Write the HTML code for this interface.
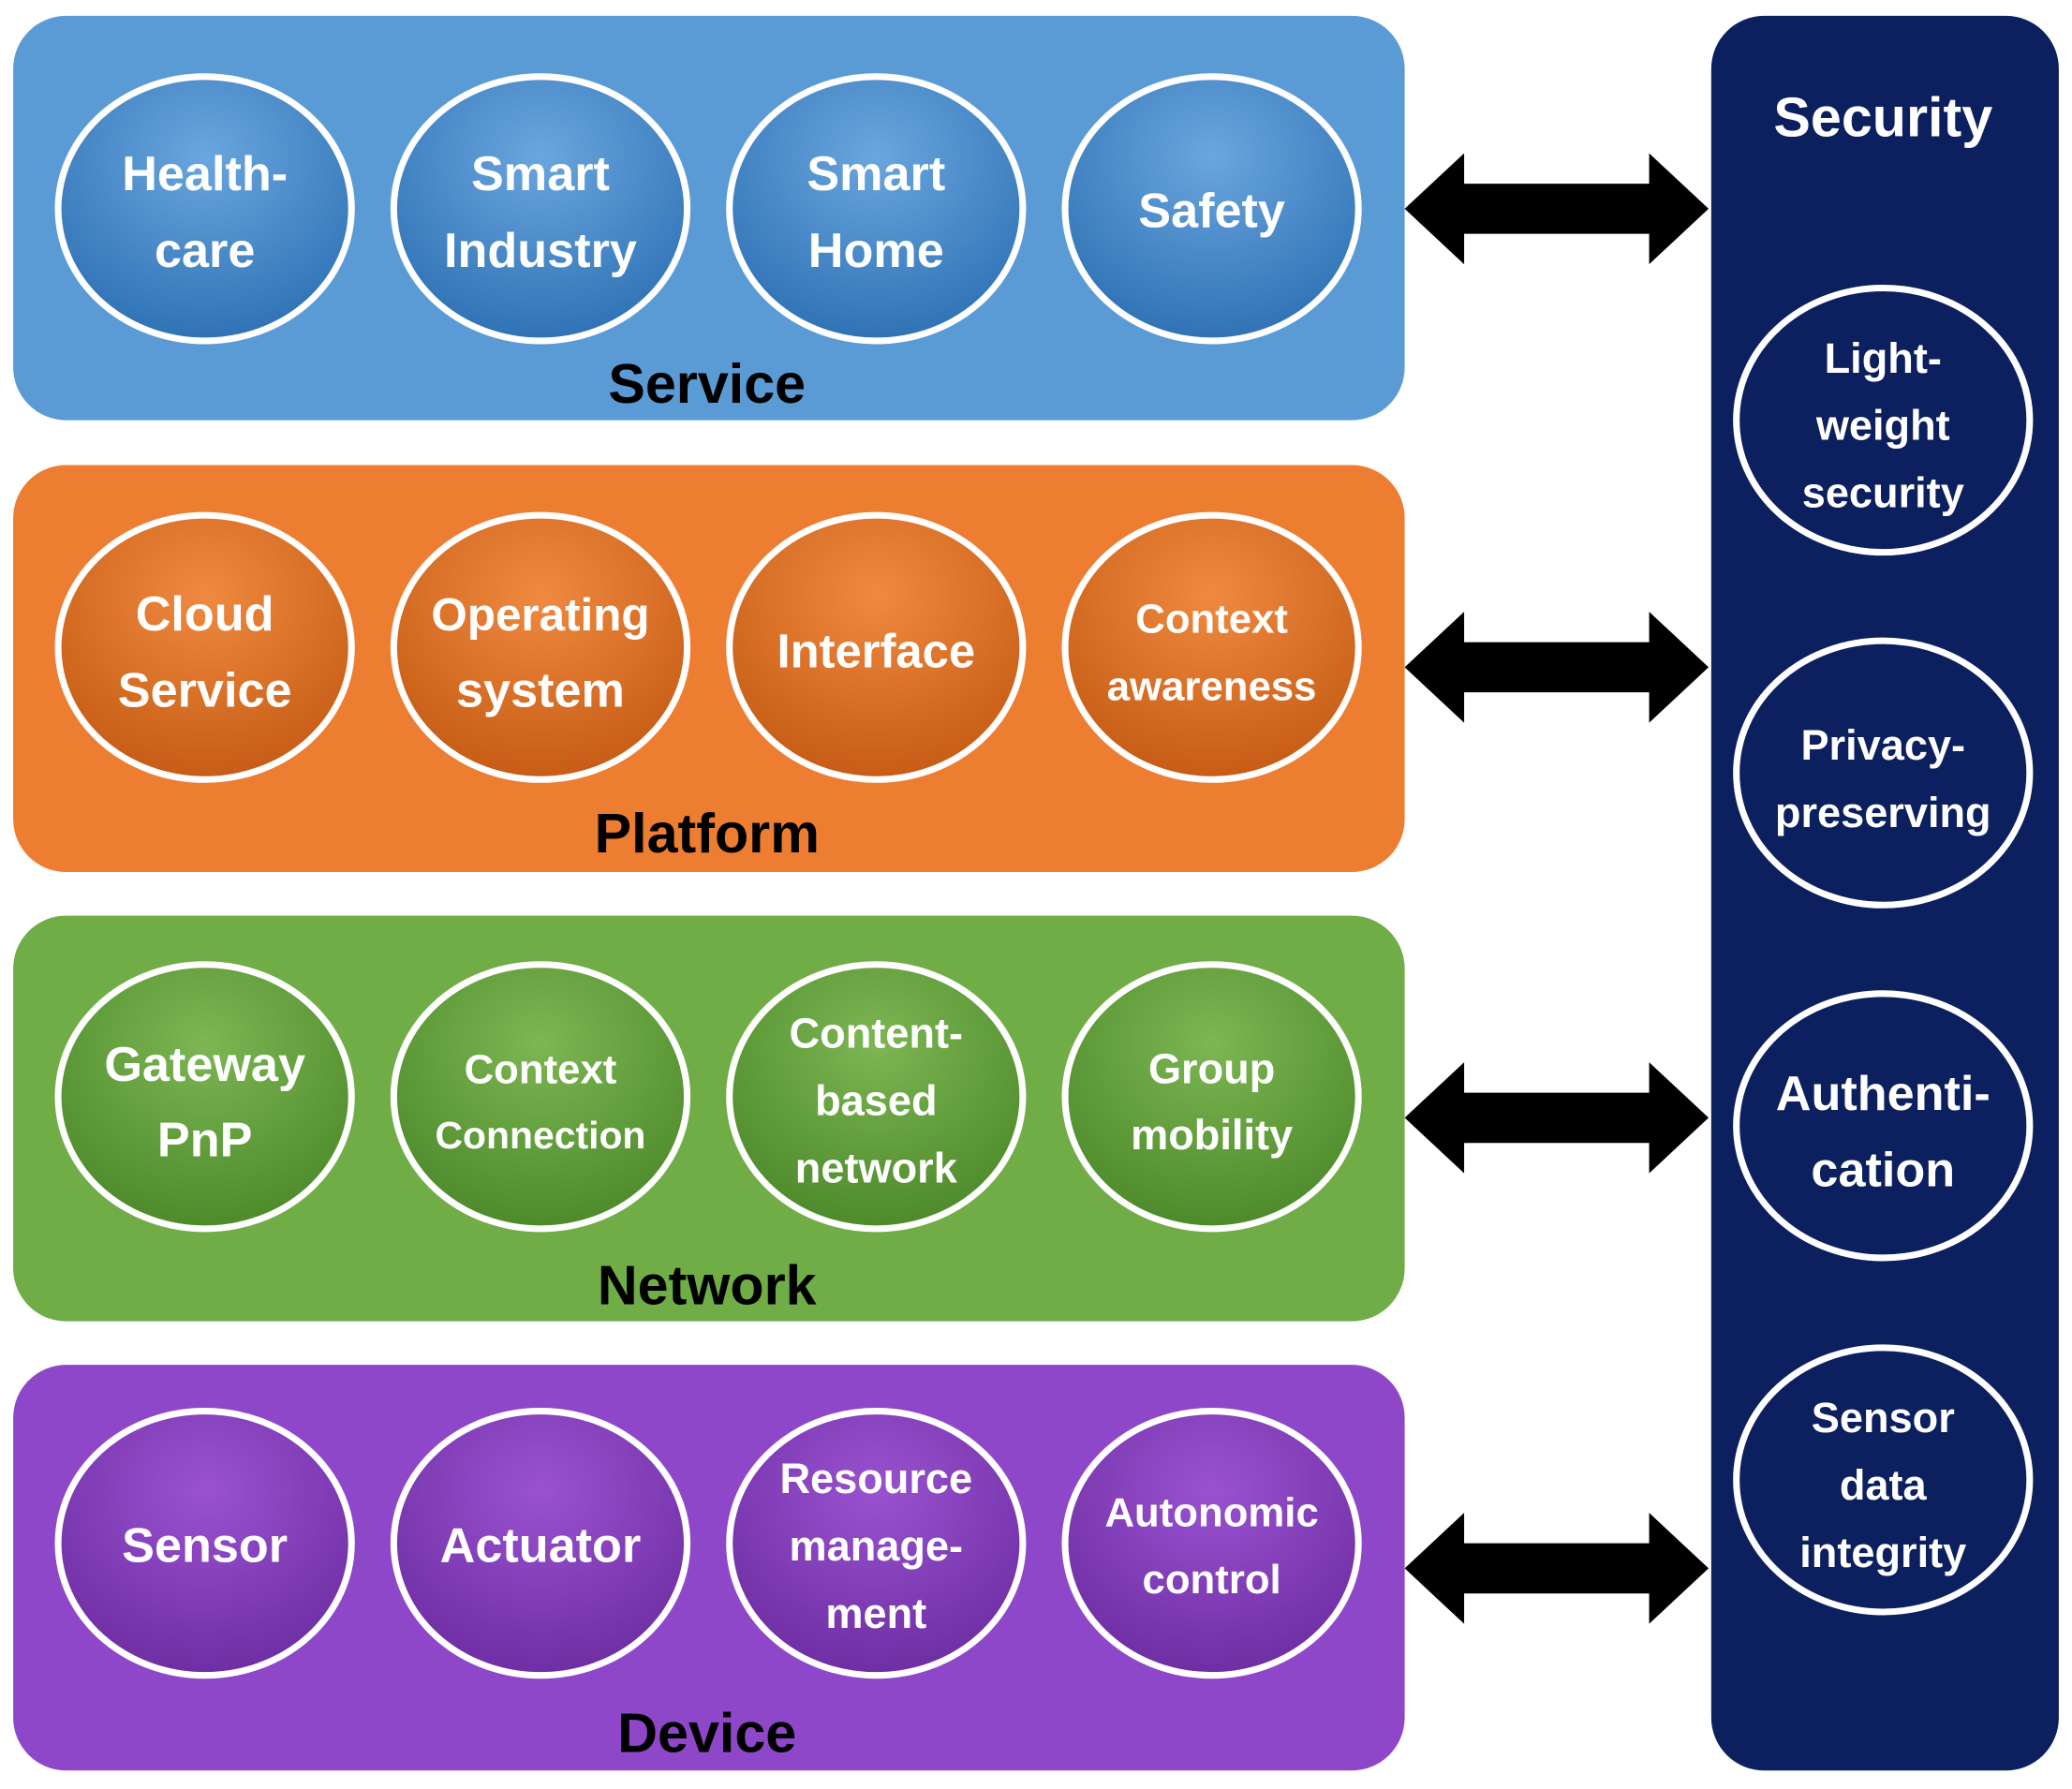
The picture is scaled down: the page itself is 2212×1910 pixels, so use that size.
<!DOCTYPE html>
<html><head><meta charset="utf-8"><style>
html,body{margin:0;padding:0;background:#fff;}
svg{display:block;}
text{font-family:"Liberation Sans",sans-serif;font-weight:bold;text-anchor:middle;}
</style></head><body>
<svg width="2212" height="1910" viewBox="0 0 1568 1354" preserveAspectRatio="none" xmlns="http://www.w3.org/2000/svg">
<defs>
<radialGradient id="gb" cx="50%" cy="30%" r="70%"><stop offset="0" stop-color="#6aa6de"/><stop offset="1" stop-color="#2f72b5"/></radialGradient>
<radialGradient id="go" cx="50%" cy="30%" r="70%"><stop offset="0" stop-color="#f08a40"/><stop offset="1" stop-color="#c65c15"/></radialGradient>
<radialGradient id="gg" cx="50%" cy="30%" r="70%"><stop offset="0" stop-color="#7db653"/><stop offset="1" stop-color="#4d8a2a"/></radialGradient>
<radialGradient id="gp" cx="50%" cy="30%" r="70%"><stop offset="0" stop-color="#9a52d0"/><stop offset="1" stop-color="#6e2ea3"/></radialGradient>
<g id="arr"><polygon points="0,0 45,-42 45,-19 185,-19 185,-42 230,0 185,42 185,19 45,19 45,42" fill="#000"/></g>
</defs>
<rect x="10" y="12" width="1053" height="306" rx="40" fill="#5b9bd5"/>
<rect x="10" y="352" width="1053" height="308" rx="40" fill="#ed7d31"/>
<rect x="10" y="693" width="1053" height="307" rx="40" fill="#70ad47"/>
<rect x="10" y="1033" width="1053" height="307" rx="40" fill="#8e47c9"/>
<rect x="1295" y="12" width="263" height="1328" rx="40" fill="#0c1f5e"/>
<g stroke="#fff" stroke-width="5">
<ellipse cx="155" cy="158" rx="111" ry="100" fill="url(#gb)"/>
<ellipse cx="409" cy="158" rx="111" ry="100" fill="url(#gb)"/>
<ellipse cx="663" cy="158" rx="111" ry="100" fill="url(#gb)"/>
<ellipse cx="917" cy="158" rx="111" ry="100" fill="url(#gb)"/>
<ellipse cx="155" cy="490" rx="111" ry="100" fill="url(#go)"/>
<ellipse cx="409" cy="490" rx="111" ry="100" fill="url(#go)"/>
<ellipse cx="663" cy="490" rx="111" ry="100" fill="url(#go)"/>
<ellipse cx="917" cy="490" rx="111" ry="100" fill="url(#go)"/>
<ellipse cx="155" cy="830" rx="111" ry="100" fill="url(#gg)"/>
<ellipse cx="409" cy="830" rx="111" ry="100" fill="url(#gg)"/>
<ellipse cx="663" cy="830" rx="111" ry="100" fill="url(#gg)"/>
<ellipse cx="917" cy="830" rx="111" ry="100" fill="url(#gg)"/>
<ellipse cx="155" cy="1168" rx="111" ry="100" fill="url(#gp)"/>
<ellipse cx="409" cy="1168" rx="111" ry="100" fill="url(#gp)"/>
<ellipse cx="663" cy="1168" rx="111" ry="100" fill="url(#gp)"/>
<ellipse cx="917" cy="1168" rx="111" ry="100" fill="url(#gp)"/>
<ellipse cx="1425" cy="318" rx="111" ry="100" fill="#0c1f5e"/>
<ellipse cx="1425" cy="585" rx="111" ry="100" fill="#0c1f5e"/>
<ellipse cx="1425" cy="852" rx="111" ry="100" fill="#0c1f5e"/>
<ellipse cx="1425" cy="1120" rx="111" ry="100" fill="#0c1f5e"/>
</g>
<use href="#arr" x="1063" y="158"/>
<use href="#arr" x="1063" y="505"/>
<use href="#arr" x="1063" y="846"/>
<use href="#arr" x="1063" y="1187"/>
<g fill="#fff" font-size="37">
<text x="155" y="144">Health-</text><text x="155" y="202">care</text>
<text x="409" y="144">Smart</text><text x="409" y="202">Industry</text>
<text x="663" y="144">Smart</text><text x="663" y="202">Home</text>
<text x="917" y="172">Safety</text>
<text x="155" y="477">Cloud</text><text x="155" y="535">Service</text>
<text x="409" y="477" font-size="35">Operating</text><text x="409" y="535">system</text>
<text x="663" y="505" font-size="36">Interface</text>
<text x="917" y="479" font-size="31">Context</text><text x="917" y="530" font-size="31">awareness</text>
<text x="155" y="818">Gateway</text><text x="155" y="875">PnP</text>
<text x="409" y="820" font-size="31">Context</text><text x="409" y="869" font-size="29">Connection</text>
<text x="663" y="793" font-size="32">Content-</text><text x="663" y="844" font-size="32">based</text><text x="663" y="895" font-size="32">network</text>
<text x="917" y="820" font-size="32">Group</text><text x="917" y="870" font-size="32">mobility</text>
<text x="155" y="1182">Sensor</text>
<text x="409" y="1182">Actuator</text>
<text x="663" y="1130" font-size="32">Resource</text><text x="663" y="1181" font-size="32">manage-</text><text x="663" y="1232" font-size="32">ment</text>
<text x="917" y="1155" font-size="31">Autonomic</text><text x="917" y="1206" font-size="31">control</text>
<text x="1425" y="103" font-size="42">Security</text>
<text x="1425" y="282" font-size="32">Light-</text><text x="1425" y="333" font-size="32">weight</text><text x="1425" y="384" font-size="32">security</text>
<text x="1425" y="575" font-size="32">Privacy-</text><text x="1425" y="626" font-size="32">preserving</text>
<text x="1425" y="840" font-size="37">Authenti-</text><text x="1425" y="898" font-size="37">cation</text>
<text x="1425" y="1084" font-size="32">Sensor</text><text x="1425" y="1135" font-size="32">data</text><text x="1425" y="1186" font-size="32">integrity</text>
</g>
<g fill="#000" font-size="42">
<text x="535" y="305">Service</text>
<text x="535" y="645">Platform</text>
<text x="535" y="987">Network</text>
<text x="535" y="1326">Device</text>
</g>
</svg>
</body></html>
